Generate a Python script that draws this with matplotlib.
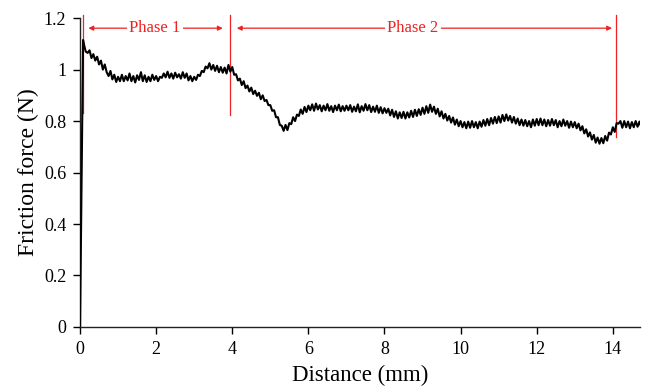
import numpy as np
import matplotlib.pyplot as plt

plt.rcParams['font.family'] = ['Liberation Serif', 'DejaVu Serif']

# start-up ramp (distance mm, force N)
ramp_distance = [0.0, 0.08]
ramp_force = [0.0, 1.115]

# sampled force every 0.05 mm starting at 0.10 mm
sample_start = 0.10
sample_step = 0.05
force = [
    1.10, 1.07, 1.065, 1.075, 1.045, 1.06, 1.035, 1.05, 1.02, 1.035, 1.0, 1.02, 0.99, 0.975, 0.995, 0.962, 0.98, 0.952, 0.972, 0.955,
    0.98, 0.955, 0.975, 0.958, 0.985, 0.955, 0.975, 0.95, 0.978, 0.96, 0.99, 0.955, 0.978, 0.952, 0.972, 0.955, 0.98, 0.96, 0.975, 0.955,
    0.972, 0.968, 0.985, 0.97, 0.992, 0.968, 0.985, 0.965, 0.988, 0.97, 0.982, 0.965, 0.99, 0.968, 0.985, 0.958, 0.975, 0.955, 0.972, 0.96,
    0.98, 0.975, 0.995, 0.99, 1.012, 1.005, 1.025, 1.0, 1.018, 0.995, 1.015, 0.99, 1.01, 0.988, 1.008, 0.985, 1.018, 0.992, 1.01, 0.98,
    0.982, 0.958, 0.965, 0.94, 0.955, 0.928, 0.938, 0.915, 0.93, 0.905, 0.918, 0.898, 0.91, 0.885, 0.9, 0.878, 0.882, 0.862, 0.862, 0.84,
    0.842, 0.815, 0.815, 0.785, 0.782, 0.762, 0.785, 0.765, 0.792, 0.788, 0.815, 0.8, 0.825, 0.82, 0.845, 0.828, 0.855, 0.835, 0.86, 0.842,
    0.865, 0.84, 0.868, 0.845, 0.862, 0.838, 0.86, 0.842, 0.866, 0.84, 0.858, 0.835, 0.86, 0.842, 0.864, 0.838, 0.858, 0.84, 0.86, 0.842,
    0.862, 0.836, 0.856, 0.838, 0.865, 0.834, 0.858, 0.84, 0.866, 0.842, 0.862, 0.835, 0.856, 0.836, 0.86, 0.832, 0.854, 0.83, 0.85, 0.832,
    0.848, 0.822, 0.844, 0.816, 0.838, 0.81, 0.834, 0.812, 0.836, 0.81, 0.834, 0.814, 0.84, 0.816, 0.844, 0.82, 0.846, 0.824, 0.852, 0.828,
    0.858, 0.832, 0.864, 0.836, 0.856, 0.828, 0.848, 0.818, 0.838, 0.81, 0.828, 0.802, 0.82, 0.794, 0.814, 0.786, 0.806, 0.78, 0.8, 0.776,
    0.796, 0.772, 0.798, 0.774, 0.8, 0.776, 0.796, 0.772, 0.798, 0.778, 0.804, 0.782, 0.808, 0.784, 0.812, 0.79, 0.816, 0.792, 0.818, 0.794,
    0.824, 0.8, 0.826, 0.802, 0.82, 0.794, 0.816, 0.79, 0.81, 0.784, 0.806, 0.782, 0.804, 0.78, 0.8, 0.776, 0.806, 0.782, 0.808, 0.784,
    0.81, 0.784, 0.806, 0.78, 0.804, 0.782, 0.808, 0.784, 0.804, 0.776, 0.8, 0.78, 0.806, 0.782, 0.8, 0.774, 0.798, 0.776, 0.796, 0.772,
    0.79, 0.764, 0.78, 0.752, 0.768, 0.74, 0.756, 0.728, 0.746, 0.716, 0.736, 0.712, 0.734, 0.714, 0.742, 0.724, 0.755, 0.748, 0.776, 0.758,
    0.792, 0.79, 0.8, 0.774, 0.8, 0.776, 0.798, 0.772, 0.796, 0.776, 0.8, 0.778, 0.798, 0.776,
]

# phase boundaries (mm) and where the red markers stop (N)
phase_bounds = [0.08, 3.95, 14.09]
bound_bottoms = [0.83, 0.823, 0.738]
phase_labels = ['Phase 1', 'Phase 2']
label_centres = [1.97, 8.75]
arrow_spans = [(0.22, 3.75), (4.12, 13.98)]

x_ticks = [0, 2, 4, 6, 8, 10, 12, 14]
y_ticks = [0, 0.2, 0.4, 0.6, 0.8, 1.0, 1.2]
y_ticklabels = ['0', '0.2', '0.4', '0.6', '0.8', '1', '1.2']

distance = np.concatenate([ramp_distance, sample_start + sample_step * np.arange(len(force))])
force_all = np.concatenate([ramp_force, force])

fig = plt.figure(figsize=(6.48, 3.86), dpi=100)
ax = fig.add_axes([0.1235, 0.153, 0.8645, 0.8])

ax.plot(distance, force_all, color='black', lw=1.5, zorder=3)

red = '#ee2222'
for xb, yb in zip(phase_bounds, bound_bottoms):
    ax.plot([xb, xb], [yb, 1.212], color=red, lw=0.9, clip_on=False, zorder=2)

arrow_y = 1.161
for (x0, x1), xc, lab in zip(arrow_spans, label_centres, phase_labels):
    ax.annotate('', xy=(x0, arrow_y), xytext=(x1, arrow_y),
                arrowprops=dict(arrowstyle='<|-|>', color=red, lw=0.9,
                                mutation_scale=7, shrinkA=0, shrinkB=0))
    ax.text(xc, arrow_y, lab, color=red, fontsize=12, ha='center', va='center',
            bbox=dict(facecolor='white', edgecolor='none', pad=1.5), zorder=4)

ax.set_xlim(0, 14.72)
ax.set_ylim(0, 1.2)
ax.set_xticks(x_ticks)
ax.set_yticks(y_ticks)
ax.set_yticklabels(y_ticklabels)
ax.tick_params(direction='out', length=5, width=1, labelsize=13, pad=5)
for side in ['top', 'right']:
    ax.spines[side].set_visible(False)
for side in ['left', 'bottom']:
    ax.spines[side].set_linewidth(1)
    ax.spines[side].set_color('#222222')

ax.set_xlabel('Distance (mm)', fontsize=16.5, labelpad=5)
ax.set_ylabel('Friction force (N)', fontsize=17, labelpad=3)

fig.savefig('out.png', dpi=100)
